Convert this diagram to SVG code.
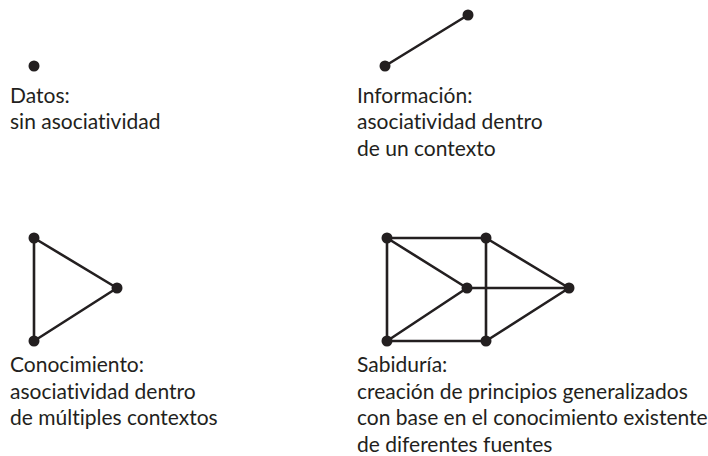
<svg xmlns="http://www.w3.org/2000/svg" width="708" height="456" viewBox="0 0 708 456">
<style>
.e{stroke:#231f20;stroke-width:2.6;fill:none;stroke-linecap:round}
.n{fill:#231f20}
text{font-family:Lato,"Liberation Sans",sans-serif;font-size:21px;fill:#231f20;font-variant-ligatures:none}
</style>
<rect width="708" height="456" fill="#fff"/>
<g id="connectors">
<line class="e" x1="385" y1="66" x2="468" y2="15"/>
<line class="e" x1="34" y1="238" x2="34" y2="341"/>
<line class="e" x1="34" y1="238" x2="117" y2="288"/>
<line class="e" x1="34" y1="341" x2="117" y2="288"/>
<line class="e" x1="387" y1="238" x2="486" y2="238"/>
<line class="e" x1="387" y1="341" x2="486" y2="341"/>
<line class="e" x1="387" y1="238" x2="387" y2="341"/>
<line class="e" x1="486" y1="238" x2="486" y2="341"/>
<line class="e" x1="387" y1="238" x2="467" y2="288"/>
<line class="e" x1="387" y1="341" x2="467" y2="288"/>
<line class="e" x1="467" y1="288" x2="569" y2="288"/>
<line class="e" x1="486" y1="238" x2="569" y2="288"/>
<line class="e" x1="486" y1="341" x2="569" y2="288"/>
</g>
<g id="datos">
<circle class="n" cx="34" cy="66" r="5.5"/>
<text x="10" y="102.5">Datos:</text>
<text x="10" y="129">sin asociatividad</text>
</g>
<g id="informacion">
<circle class="n" cx="468" cy="15" r="5.5"/>
<circle class="n" cx="385" cy="66" r="5.5"/>
<text x="357" y="102.5">Información:</text>
<text x="357" y="129">asociatividad dentro</text>
<text x="357" y="155.5">de un contexto</text>
</g>
<g id="conocimiento">
<circle class="n" cx="34" cy="238" r="5.5"/>
<circle class="n" cx="117" cy="288" r="5.5"/>
<circle class="n" cx="34" cy="341" r="5.5"/>
<text x="10" y="372">Conocimiento:</text>
<text x="10" y="398.5">asociatividad dentro</text>
<text x="10" y="425">de múltiples contextos</text>
</g>
<g id="sabiduria">
<circle class="n" cx="387" cy="238" r="5.5"/>
<circle class="n" cx="486" cy="238" r="5.5"/>
<circle class="n" cx="467" cy="288" r="5.5"/>
<circle class="n" cx="569" cy="288" r="5.5"/>
<circle class="n" cx="387" cy="341" r="5.5"/>
<circle class="n" cx="486" cy="341" r="5.5"/>
<text x="357" y="372">Sabiduría:</text>
<text x="357" y="398.5">creación de principios generalizados</text>
<text x="357" y="425">con base en el conocimiento existente</text>
<text x="357" y="451.5">de diferentes fuentes</text>
</g>
</svg>
